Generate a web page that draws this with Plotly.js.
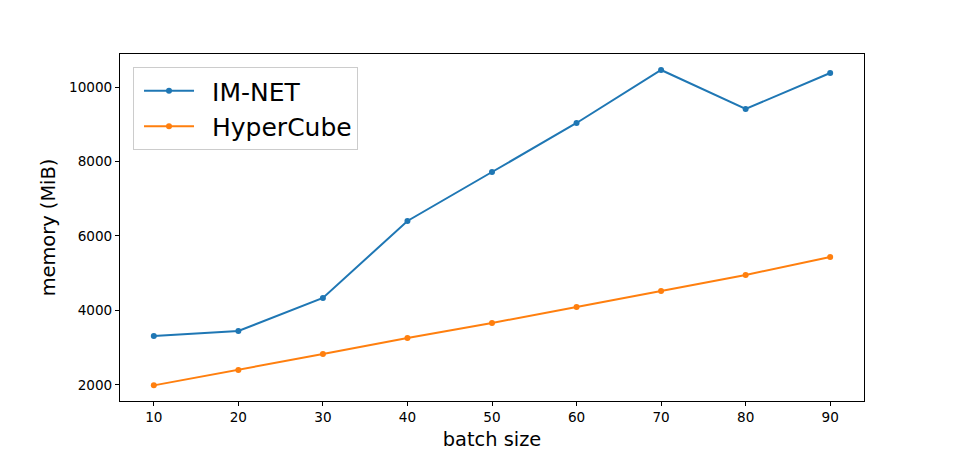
<!DOCTYPE html>
<html>
<head>
<meta charset="utf-8">
<script src="https://cdn.plot.ly/plotly-3.0.1.min.js"></script>
<style>html,body{margin:0;padding:0;background:#fff;}#chart{width:960px;height:451px;}</style>
</head>
<body>
<div id="chart"></div>
<script>
const batchSizes = [10, 20, 30, 40, 50, 60, 70, 80, 90];
const imnetMemory = [3316, 3450, 4336, 6403, 7718, 9034, 10457, 9410, 10376];
const hypercubeMemory = [1990, 2403, 2832, 3262, 3665, 4094, 4524, 4953, 5436];
const seriesNames = ["IM-NET", "HyperCube"];
const xTickVals = [10, 20, 30, 40, 50, 60, 70, 80, 90];
const yTickVals = [2000, 4000, 6000, 8000, 10000];

const font = "DejaVu Sans, sans-serif";
const traces = [
  {x: batchSizes, y: imnetMemory, name: seriesNames[0], mode: "lines+markers",
   line: {color: "#1f77b4", width: 2}, marker: {color: "#1f77b4", size: 6}},
  {x: batchSizes, y: hypercubeMemory, name: seriesNames[1], mode: "lines+markers",
   line: {color: "#ff7f0e", width: 2}, marker: {color: "#ff7f0e", size: 6}}
];
const axisCommon = {
  showgrid: false, zeroline: false, showline: true, mirror: true,
  linecolor: "#000", linewidth: 1, ticks: "outside", ticklen: 4, tickwidth: 1,
  tickcolor: "#000", tickfont: {family: font, size: 13.6, color: "#000"}
};
const layout = {
  width: 960, height: 451,
  margin: {l: 120, r: 96, t: 54, b: 50},
  paper_bgcolor: "#fff", plot_bgcolor: "#fff",
  font: {family: font, color: "#000"},
  showlegend: true,
  legend: {x: 0.0175, y: 0.9625, xanchor: "left", yanchor: "top",
    itemwidth: 68, tracegroupgap: 0,
    bgcolor: "rgba(255,255,255,0.8)", bordercolor: "#cccccc", borderwidth: 1,
    font: {family: font, size: 25, color: "#000"}},
  xaxis: Object.assign({}, axisCommon, {
    range: [6, 94], tickvals: xTickVals, ticktext: xTickVals.map(String),
    title: {text: "batch size", font: {family: font, size: 19.4, color: "#000"}, standoff: 8}
  }),
  yaxis: Object.assign({}, axisCommon, {
    range: [1570, 10886], tickvals: yTickVals, ticktext: yTickVals.map(String),
    title: {text: "memory (MiB)", font: {family: font, size: 19.4, color: "#000"}, standoff: 8}
  })
};
function fixLegend() {
  document.querySelectorAll("#chart .legend .traces").forEach(function (g) {
    g.querySelectorAll("path.js-line").forEach(function (p) { p.setAttribute("d", "M10,0h50"); });
    g.querySelectorAll(".legendpoints path.scatterpts").forEach(function (p) {
      p.setAttribute("transform", "translate(35,0)");
    });
  });
}
Plotly.newPlot("chart", traces, layout, {displayModeBar: false, staticPlot: true}).then(fixLegend);
</script>
</body>
</html>
